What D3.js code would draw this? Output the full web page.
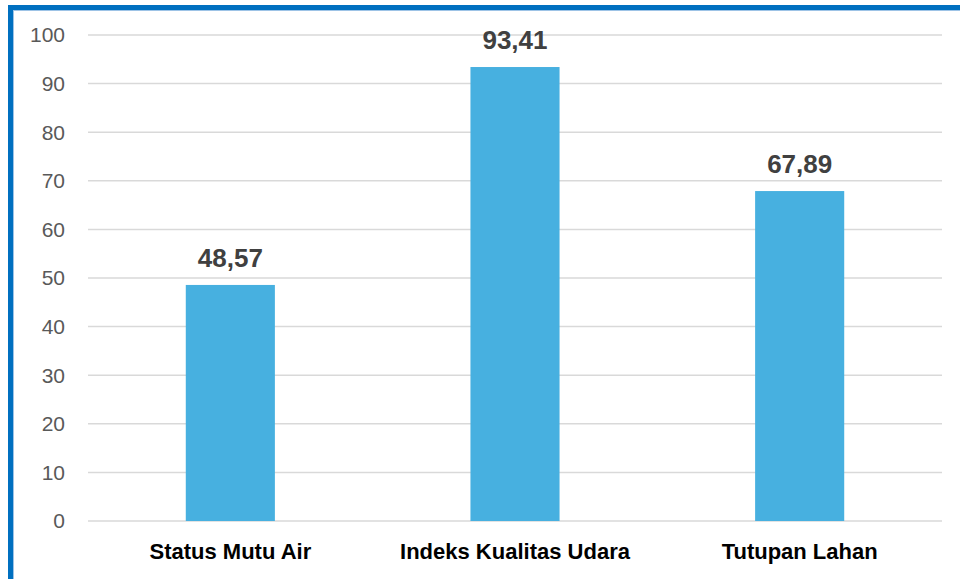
<!DOCTYPE html>
<html><head><meta charset="utf-8">
<script src="https://cdn.jsdelivr.net/npm/d3@7"></script>
<style>html,body{margin:0;padding:0;background:#fff;}svg{display:block;}</style>
</head><body>
<svg id="chart" width="960" height="579"></svg>
<script>
const categories = ["Status Mutu Air", "Indeks Kualitas Udara", "Tutupan Lahan"];
const values = [48.57, 93.41, 67.89];
const valueLabels = ["48,57", "93,41", "67,89"];
const yTicks = [0, 10, 20, 30, 40, 50, 60, 70, 80, 90, 100];

const svg = d3.select("#chart");
const W = 960, H = 579;
const m = {left: 88, right: 18, top: 35, bottom: 58};

// frame border (blue top and left)
svg.append("rect").attr("x", 0).attr("y", 0).attr("width", W).attr("height", H).attr("fill", "#fff");
svg.append("rect").attr("x", 8).attr("y", 5).attr("width", W - 8).attr("height", 5).attr("fill", "#0070C0");
svg.append("rect").attr("x", 8).attr("y", 5).attr("width", 5).attr("height", H - 5).attr("fill", "#0070C0");
svg.append("rect").attr("x", 13).attr("y", 10).attr("width", W - 13).attr("height", 1).attr("fill", "#9DC3E6");
svg.append("rect").attr("x", 13).attr("y", 10).attr("width", 1).attr("height", H - 10).attr("fill", "#9DC3E6");

const x = d3.scaleBand().domain(categories).range([m.left, 942]).paddingInner(0.687).paddingOuter(0.3435);
const y = d3.scaleLinear().domain([0, 100]).range([521, 35]);

// gridlines
svg.append("g").selectAll("line").data(yTicks).join("line")
  .attr("x1", m.left).attr("x2", 942)
  .attr("y1", d => y(d)).attr("y2", d => y(d))
  .attr("stroke", "#D9D9D9").attr("stroke-width", 1.5);

// y tick labels
svg.append("g").selectAll("text").data(yTicks).join("text")
  .attr("x", 65).attr("y", d => y(d)).attr("dy", "0.35em")
  .attr("text-anchor", "end")
  .attr("font-family", "Liberation Sans, Arial, sans-serif")
  .attr("font-size", 21).attr("fill", "#595959")
  .text(d => d);

// bars
svg.append("g").selectAll("rect").data(values).join("rect")
  .attr("x", (d, i) => x(categories[i]))
  .attr("width", x.bandwidth())
  .attr("y", d => y(d))
  .attr("height", d => y(0) - y(d))
  .attr("fill", "#47B0E0");

// value labels
svg.append("g").selectAll("text").data(values).join("text")
  .attr("x", (d, i) => x(categories[i]) + x.bandwidth() / 2)
  .attr("y", d => y(d) - 18)
  .attr("text-anchor", "middle")
  .attr("font-family", "Liberation Sans, Arial, sans-serif")
  .attr("font-weight", "bold")
  .attr("font-size", 26).attr("fill", "#404040")
  .text((d, i) => valueLabels[i]);

// category labels
svg.append("g").selectAll("text").data(categories).join("text")
  .attr("x", d => x(d) + x.bandwidth() / 2)
  .attr("y", 559)
  .attr("text-anchor", "middle")
  .attr("font-family", "Liberation Sans, Arial, sans-serif")
  .attr("font-weight", "bold")
  .attr("font-size", 22).attr("fill", "#000")
  .text(d => d);
</script>
</body></html>
